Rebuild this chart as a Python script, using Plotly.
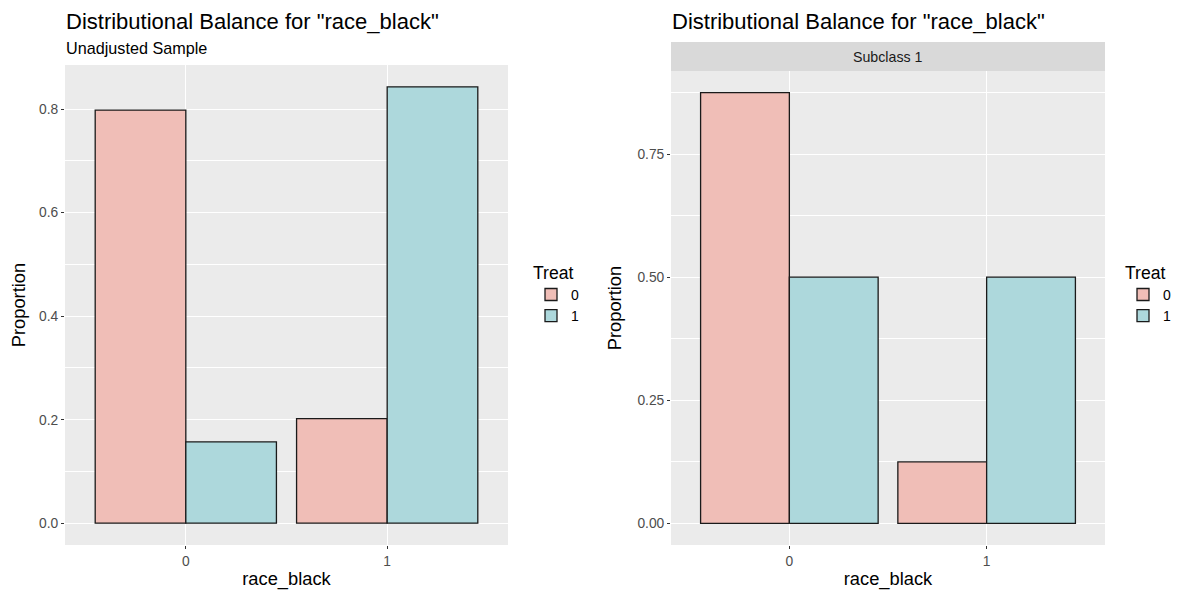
import plotly.graph_objects as go

# ---- data ----
categories = ["0", "1"]
treat_levels = ["0", "1"]
left_treat0 = [0.798, 0.202]
left_treat1 = [0.157, 0.843]
right_treat0 = [0.875, 0.125]
right_treat1 = [0.5, 0.5]
left_ticks = [0.0, 0.2, 0.4, 0.6, 0.8]
left_ticklabels = ["0.0", "0.2", "0.4", "0.6", "0.8"]
right_ticks = [0.0, 0.25, 0.5, 0.75]
right_ticklabels = ["0.00", "0.25", "0.50", "0.75"]
title_text = 'Distributional Balance for "race_black"'
subtitle_text = "Unadjusted Sample"
strip_text = "Subclass 1"

# the page body adds an 8px margin, so the figure is drawn 8px in
OFF = 8
W, H = 1179 - OFF, 590 - OFF
FONT = "Liberation Sans, Arial, sans-serif"
RED = "#F0BEB7"
TEAL = "#ADD8DC"
EDGE = "#1A1A1A"
PANEL = "#EBEBEB"
TICK_SIZE = 13.8
AXT_SIZE = 18.3

def px_x(p):
    return (p - OFF) / W

def px_y(p):
    return 1 - (p - OFF) / H

fig = go.Figure()

def add_bars(vals0, vals1, xa, ya, legend):
    for lvl, vals, col in ((treat_levels[0], vals0, RED), (treat_levels[1], vals1, TEAL)):
        fig.add_trace(go.Bar(
            x=categories, y=vals, name=lvl, xaxis=xa, yaxis=ya,
            marker=dict(color=col, line=dict(color=EDGE, width=1.3)),
            legend=legend, offsetgroup=lvl,
        ))

add_bars(left_treat0, left_treat1, "x", "y", "legend")
add_bars(right_treat0, right_treat1, "x2", "y2", "legend2")

def ymax(*series):
    return max(max(s) for s in series)

lm = ymax(left_treat0, left_treat1)
rm = ymax(right_treat0, right_treat1)

axis_common = dict(
    showline=False, zeroline=False, ticks="outside", ticklen=3, tickwidth=1.1,
    tickcolor="#333333", tickfont=dict(family=FONT, size=TICK_SIZE, color="#4D4D4D"),
    gridcolor="white", gridwidth=1.3, automargin=False,
)

x_common = dict(axis_common, type="category", range=[-0.6, 1.6],
                title=dict(text="race_black", font=dict(family=FONT, size=AXT_SIZE, color="black"), standoff=4))

y_title = dict(text="Proportion", font=dict(family=FONT, size=AXT_SIZE, color="black"), standoff=10)

legend_common = dict(
    xanchor="left", yanchor="top",
    title=dict(text="Treat", font=dict(family=FONT, size=17.6, color="black")),
    font=dict(family=FONT, size=14, color="black"), bgcolor="rgba(0,0,0,0)",
    itemwidth=30, tracegroupgap=0,
)

fig.update_layout(
    width=W, height=H,
    margin=dict(l=0, r=0, t=0, b=0),
    paper_bgcolor="white", plot_bgcolor=PANEL,
    barmode="group", bargap=0.1, bargroupgap=0,
    font=dict(family=FONT),
    xaxis=dict(x_common, domain=[px_x(65), px_x(508)], anchor="y"),
    xaxis2=dict(x_common, domain=[px_x(671), px_x(1105)], anchor="y2"),
    yaxis=dict(axis_common, domain=[px_y(545), px_y(65)], anchor="x",
               range=[-0.05 * lm, 1.05 * lm], tickvals=left_ticks, ticktext=left_ticklabels,
               minor=dict(showgrid=True, gridcolor="white", gridwidth=0.6, dtick=0.1, tick0=0.1),
               title=y_title),
    yaxis2=dict(axis_common, domain=[px_y(545), px_y(71)], anchor="x2",
                range=[-0.05 * rm, 1.05 * rm], tickvals=right_ticks, ticktext=right_ticklabels,
                minor=dict(showgrid=True, gridcolor="white", gridwidth=0.6, dtick=0.125, tick0=0.125),
                title=y_title),
    legend=dict(legend_common, x=px_x(531), y=px_y(256)),
    legend2=dict(legend_common, x=px_x(1123), y=px_y(256)),
    showlegend=True,
)

# strip for facet
fig.add_shape(type="rect", xref="paper", yref="paper",
              x0=px_x(671), x1=px_x(1105), y0=px_y(71), y1=px_y(42),
              fillcolor="#D9D9D9", line=dict(width=0), layer="below")
fig.add_annotation(text=strip_text, xref="paper", yref="paper", x=px_x(888), y=px_y(56.5),
                   showarrow=False, xanchor="center", yanchor="middle",
                   font=dict(family=FONT, size=14.2, color="#1A1A1A"))

# titles
fig.add_annotation(text=title_text, xref="paper", yref="paper", x=px_x(64), y=px_y(21),
                   showarrow=False, xanchor="left", yanchor="middle",
                   font=dict(family=FONT, size=22, color="black"))
fig.add_annotation(text=subtitle_text, xref="paper", yref="paper", x=px_x(64), y=px_y(48),
                   showarrow=False, xanchor="left", yanchor="middle",
                   font=dict(family=FONT, size=16.2, color="black"))
fig.add_annotation(text=title_text, xref="paper", yref="paper", x=px_x(670), y=px_y(21),
                   showarrow=False, xanchor="left", yanchor="middle",
                   font=dict(family=FONT, size=22, color="black"))

fig.write_html("out.html")
